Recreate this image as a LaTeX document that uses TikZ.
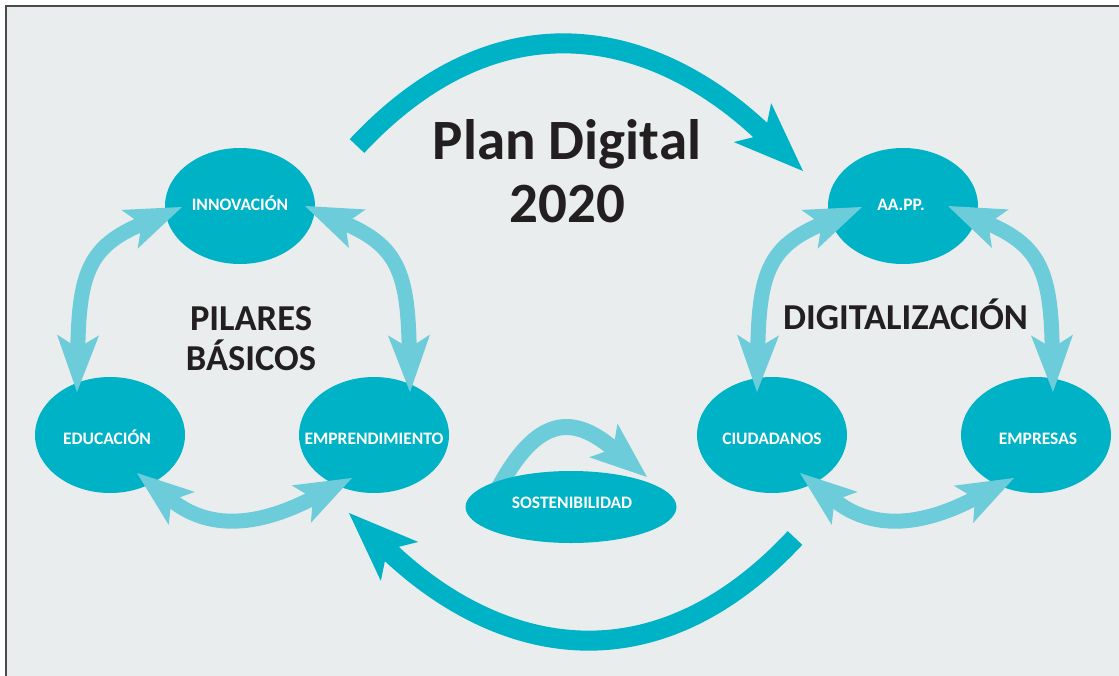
\documentclass[tikz,border=0pt]{standalone}
\usepackage{fontspec}
\setmainfont{Carlito}
\usetikzlibrary{arrows.meta,shapes.geometric}
\definecolor{dteal}{HTML}{00B2C6}
\definecolor{lteal}{HTML}{6DCCD9}
\definecolor{bgc}{HTML}{E9EDEE}
\definecolor{txt}{HTML}{231F20}
\definecolor{frm}{HTML}{4A4A4A}
\tikzset{
  bigarrow/.style={draw=dteal, line width=20pt, line cap=butt,
    -{Stealth[length=70pt,width=54pt,inset=17pt,line width=0pt]}},
  twoway/.style={draw=lteal, line width=15pt, line cap=butt,
    {Stealth[length=57pt,width=42pt,inset=13pt,line width=0pt]}-{Stealth[length=57pt,width=42pt,inset=13pt,line width=0pt]}},
  oneway/.style={draw=lteal, line width=16pt, line cap=butt,
    -{Stealth[length=57pt,width=44pt,inset=13pt,line width=0pt]}},
  blob/.style={ellipse, fill=dteal, draw=none, inner sep=0pt,
    minimum width=150pt, minimum height=116pt},
  smalllabel/.style={anchor=base, text=white, inner sep=0pt,
    font=\bfseries\fontsize{17.5}{20}\selectfont},
  biglabel/.style={anchor=base, text=txt, inner sep=0pt,
    font=\bfseries\fontsize{36.5}{40}\selectfont},
  titlelabel/.style={anchor=base, text=txt, inner sep=0pt,
    font=\bfseries\fontsize{57}{60}\selectfont}
}
\begin{document}
\begin{tikzpicture}[x=1pt,y=-1pt]
\useasboundingbox (0,0) rectangle (1119,675);
\fill[white] (0,0) rectangle (1119,675);
\fill[bgc] (6,6) rectangle (1130,690);
\draw[frm, line width=1.6pt] (6,690) -- (6,6) -- (1130,6);

% big dark arrows
\coordinate (topS) at (357,146);
\coordinate (topE) at (803,171);
\coordinate (botS) at (795,538);
\coordinate (botE) at (349,513);
\draw[bigarrow] (topS) .. controls (502,-9) and (658,32) .. (topE);
\draw[bigarrow] (botS) .. controls (650,693) and (494,652) .. (botE);

% sostenibilidad arrow (behind its ellipse)
\coordinate (sosS) at (495,495);
\coordinate (sosE) at (647,477);
\draw[oneway] (sosS) .. controls (537.3,411.3) and (575,416.6) .. (sosE);

% ellipses
\node[blob] (innov) at (240,206) {};
\node[blob] (educ) at (110,435) {};
\node[blob] (empr) at (374,435) {};
\node[blob] (aapp) at (903,206) {};
\node[blob] (ciud) at (772,435) {};
\node[blob] (emps) at (1036,435) {};
\node[blob, minimum width=211pt, minimum height=72pt] (sost) at (571,507) {};

% ellipse labels
\node[smalllabel] (innovT) at (240,210) {INNOVACIÓN};
\node[smalllabel] (educT) at (107,444) {EDUCACIÓN};
\node[smalllabel] (emprT) at (374,444) {EMPRENDIMIENTO};
\node[smalllabel] (aappT) at (901,210) {AA.PP.};
\node[smalllabel] (ciudT) at (772,444) {CIUDADANOS};
\node[smalllabel] (empsT) at (1038,444) {EMPRESAS};
\node[smalllabel] (sostT) at (572,508) {SOSTENIBILIDAD};

% light two-way arrows, left group
\coordinate (a1s) at (182,207);
\coordinate (a1e) at (77,392);
\coordinate (a2s) at (305,206);
\coordinate (a2e) at (410,392);
\coordinate (a3s) at (137,473);
\coordinate (a3e) at (352,478);
\draw[twoway] (a1s) .. controls (90,246) and (79.2,272) .. (a1e);
\draw[twoway] (a2s) .. controls (397,246) and (407.8,272) .. (a2e);
\draw[twoway] (a3s) .. controls (213.6,533.6) and (265.1,522.7) .. (a3e);

% light two-way arrows, right group
\coordinate (b1s) at (862,207);
\coordinate (b1e) at (757,392);
\coordinate (b2s) at (948,206);
\coordinate (b2e) at (1053,392);
\coordinate (b3s) at (800,473);
\coordinate (b3e) at (1014,478);
\draw[twoway] (b1s) .. controls (770,246) and (759.2,272) .. (b1e);
\draw[twoway] (b2s) .. controls (1040,246) and (1050.8,272) .. (b2e);
\draw[twoway] (b3s) .. controls (876.6,533.6) and (928.1,522.7) .. (b3e);

% big texts
\node[titlelabel] (plan) at (567,159) {Plan Digital};
\node[titlelabel] (year) at (567.5,222) {2020};
\node[biglabel] (pil1) at (251,330) {PILARES};
\node[biglabel] (pil2) at (251,370) {BÁSICOS};
\node[biglabel] (digi) at (905.5,329) {DIGITALIZACIÓN};
\end{tikzpicture}
\end{document}
